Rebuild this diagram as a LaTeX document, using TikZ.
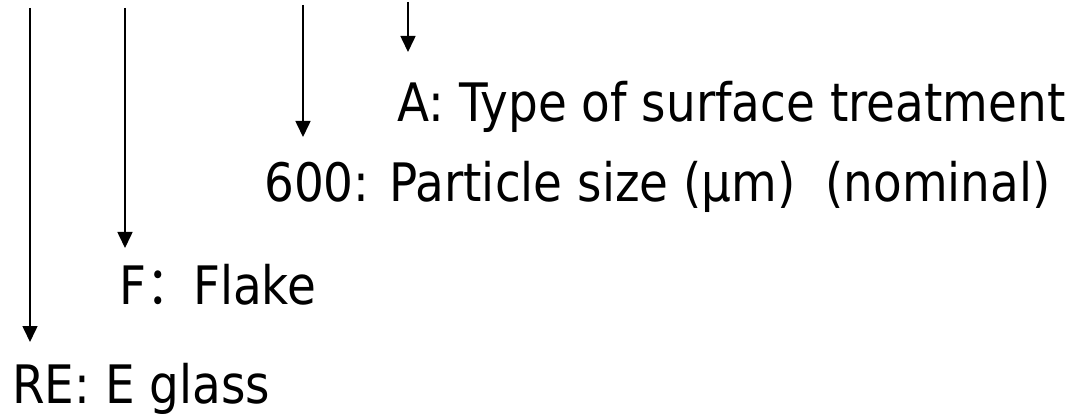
\documentclass[tikz,border=0pt]{standalone}
\usepackage{fontspec}
\setmainfont{DejaVu Sans}[FakeStretch=0.885]
\newfontfamily\cjk{Noto Sans CJK SC}[FakeStretch=0.885]
\usetikzlibrary{arrows.meta}

\begin{document}
\begin{tikzpicture}[
      x=1pt, y=-1pt,
      code/.style={anchor=base west, inner sep=0pt,
        font=\fontsize{53pt}{60pt}\selectfont},
      arrow/.style={-{Triangle[length=16pt, width=15pt]}, line width=1.6pt, draw=black}
    ]
    \useasboundingbox (0,0) rectangle (1082,414);

    \node[code] (surface) at (397,122) {A: Type of surface treatment};
    \node[code] (size) at (264,202) {600: Particle size (µm)\ \ (nominal)};
    \node[code] (flake) at (119,305) {F{\cjk ：}Flake};
    \node[code] (glass) at (12,403) {RE: E glass};

    % pointers down to each code
    \coordinate (glassTop) at (30,8);
    \coordinate (glassTip) at (30,342);
    \coordinate (flakeTop) at (125,8);
    \coordinate (flakeTip) at (125,248);
    \coordinate (sizeTop) at (303,5);
    \coordinate (sizeTip) at (303,137);
    \coordinate (surfaceTop) at (408,2);
    \coordinate (surfaceTip) at (408,52);

    \draw[arrow] (glassTop) -- (glassTip);
    \draw[arrow] (flakeTop) -- (flakeTip);
    \draw[arrow] (sizeTop) -- (sizeTip);
    \draw[arrow] (surfaceTop) -- (surfaceTip);
  \end{tikzpicture}
\end{document}
